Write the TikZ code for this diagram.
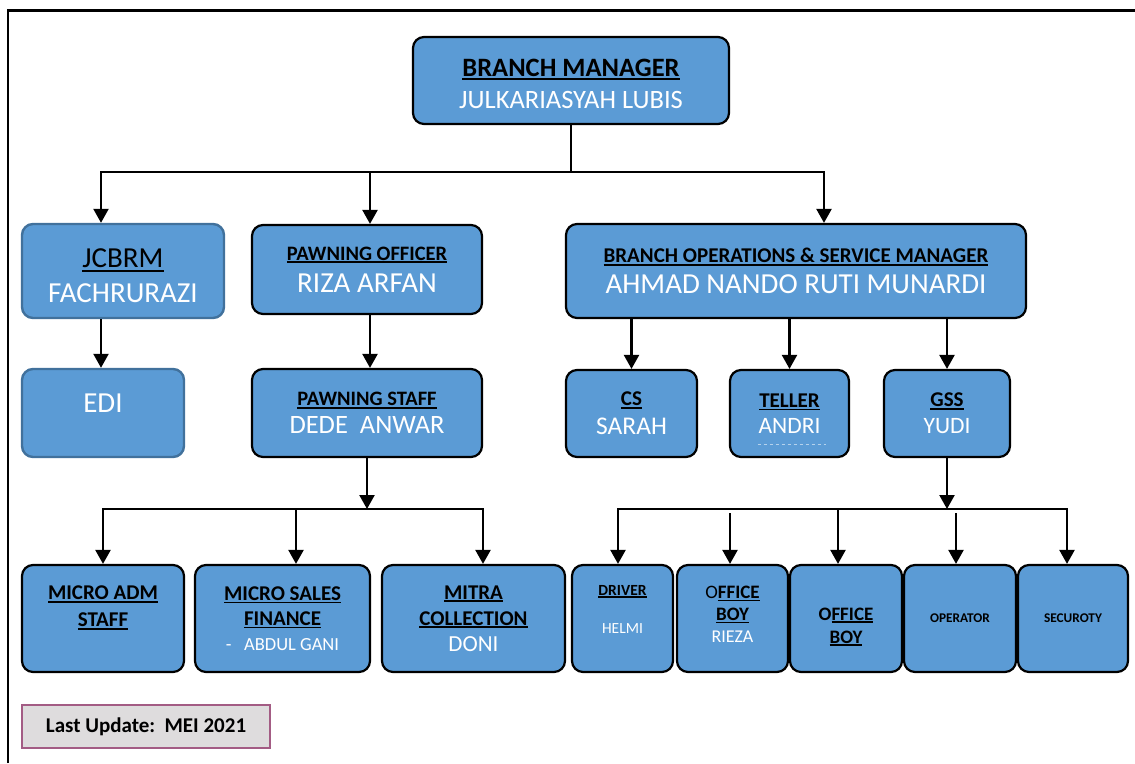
\documentclass[tikz,border=0pt]{standalone}
\usepackage{fontspec}
\setmainfont{Carlito}
\usetikzlibrary{arrows.meta,calc}
\definecolor{boxblue}{HTML}{5B9BD5}
\definecolor{edgeblue}{HTML}{41719C}
\definecolor{notegray}{HTML}{DEDCDD}
\definecolor{noteedge}{HTML}{A35C84}
\newcommand\undl[1]{{\setbox0\hbox{#1}\rlap{\rule[-0.14em]{\wd0}{0.08em}}\box0}}
\newcommand\hd[2]{{\fontsize{#1}{#1}\selectfont\bfseries\undl{#2}}}
\newcommand\nm[2]{{\fontsize{#1}{#1}\selectfont\color{white}#2}}
\begin{document}
\begin{tikzpicture}[x=1pt,y=-1pt,
  box/.style={draw,line width=2.2pt,rounded corners=11pt,fill=boxblue,align=center,inner sep=0pt,minimum height=87},
  bluebox/.style={box,draw=edgeblue,line width=2.4pt},
  link/.style={line width=2.3pt,line cap=rect},
  arr/.style={line width=2.3pt,-{Triangle[width=15pt,length=14pt]}}]
\useasboundingbox (0,0) rectangle (1135,763);
\draw[line width=2.2pt] (8,763)--(8,10.5)--(1135,10.5);
\node[box,minimum width=316,text height=56pt,font=\fontsize{26.5}{32}\selectfont] (bm) at (571,80.5) {\hd{26.5}{BRANCH MANAGER}\\\nm{26.5}{JULKARIASYAH LUBIS}};
\node[bluebox,minimum width=202,minimum height=94,text height=64pt,font=\fontsize{29}{35}\selectfont] (jcbrm) at (123,271) {{\undl{JCBRM}}\\\nm{29}{FACHRURAZI}};
\node[bluebox,minimum width=162,minimum height=88,text depth=20pt] (edi) at (103,413) {\nm{29}{EDI}};
\node[box,minimum width=230,minimum height=89,font=\fontsize{20.5}{32}\selectfont] (po) at (367,269.5) {\hd{20.5}{PAWNING OFFICER}\\\nm{29}{RIZA ARFAN}};
\node[box,minimum width=230,minimum height=88,font=\fontsize{20.5}{28}\selectfont] (ps) at (367,413) {\hd{20.5}{PAWNING STAFF}\\\nm{26.5}{DEDE\ \ ANWAR}};
\node[box,minimum width=460,minimum height=94,font=\fontsize{21}{31}\selectfont] (bosm) at (796,271) {\hd{21}{BRANCH OPERATIONS \& SERVICE MANAGER}\\\nm{29}{AHMAD NANDO RUTI MUNARDI}};
\node[box,minimum width=131,font=\fontsize{21}{29}\selectfont] (cs) at (631.5,413.5) {\hd{21}{CS}\\\nm{25.5}{SARAH}};
\node[box,minimum width=119,font=\fontsize{21}{26}\selectfont] (teller) at (789.5,413.5) {\hd{21}{TELLER}\\\nm{23.5}{ANDRI}};
\node[box,minimum width=126,font=\fontsize{21}{27}\selectfont] (gss) at (947,413.5) {\hd{21}{GSS}\\\nm{23.5}{YUDI}};
\draw[white!55!boxblue,dashed,line width=0.8pt] ($(teller.center)+(-32,31)$) -- ($(teller.center)+(36,31)$);
\node[box,minimum width=162,minimum height=107,text depth=24pt,font=\fontsize{21}{27}\selectfont] (adm) at (103,618.5) {\hd{21}{MICRO ADM}\\\hd{21}{STAFF}};
\node[box,minimum width=175,minimum height=107,font=\fontsize{21}{25}\selectfont] (msf) at (282.5,618.5) {\hd{21}{MICRO SALES}\\\hd{21}{FINANCE}\\\nm{18.5}{-\ \ \ ABDUL GANI}};
\node[box,minimum width=183,minimum height=107,font=\fontsize{21}{26}\selectfont] (mitra) at (473.5,618.5) {\hd{21}{MITRA}\\\hd{21}{COLLECTION}\\\nm{23}{DONI}};
\node[box,minimum width=101,minimum height=107,text depth=18pt,font=\fontsize{15.5}{38}\selectfont] (driver) at (622.5,618.5) {\hd{15.5}{DRIVER}\\\nm{15.5}{HELMI}};
\node[box,minimum width=111,minimum height=107,text depth=8pt,font=\fontsize{19}{22}\selectfont] (ob1) at (732.5,618.5) {O\textbf{\undl{FFICE}}\\\hd{19}{BOY}\\\nm{18}{RIEZA}};
\node[box,minimum width=112,minimum height=107,text height=52pt,font=\fontsize{19}{23}\selectfont] (ob2) at (846,618.5) {\textbf{O\undl{FFICE}}\\\hd{19}{BOY}};
\node[box,minimum width=112,minimum height=107,font=\fontsize{13.3}{16}\selectfont\bfseries] (op) at (960,618.5) {OPERATOR};
\node[box,minimum width=110,minimum height=107,font=\fontsize{13.3}{16}\selectfont\bfseries] (sec) at (1073,618.5) {SECUROTY};
\node[draw=noteedge,fill=notegray,line width=2pt,minimum width=248,minimum height=43,font=\fontsize{21}{25}\selectfont\bfseries] (note) at (146,726.5) {Last Update:\ \ MEI 2021};
\coordinate (jbus) at (101,172); \coordinate (pbus) at (370,172); \coordinate (obus) at (824,172);
\draw[link] (bm.south) -- (bm.south |- jbus); \draw[link] (jbus) -- (obus);
\foreach \c/\n in {jbus/jcbrm,pbus/po,obus/bosm} \draw[arr] (\c) -- (\c |- \n.north);
\draw[arr] (jbus |- jcbrm.south) -- (jbus |- edi.north);
\draw[arr] (pbus |- po.south) -- (pbus |- ps.north);
\coordinate (sbusA) at (103,509); \coordinate (sbusB) at (296,509); \coordinate (sbusC) at (483,509);
\draw[arr] (ps.south) -- (ps.south |- sbusA); \draw[link] (sbusA) -- (sbusC);
\foreach \c/\n in {sbusA/adm,sbusB/msf,sbusC/mitra} \draw[arr] (\c) -- (\c |- \n.north);
\foreach \n in {cs,teller,gss} \draw[arr] (\n.north |- bosm.south) -- (\n.north);
\coordinate (gbusA) at (618,509); \coordinate (gbusB) at (730,513); \coordinate (gbusC) at (838,509); \coordinate (gbusD) at (956,513); \coordinate (gbusE) at (1067,509);
\draw[arr] (gss.south) -- (gss.south |- gbusA); \draw[link] (gbusA) -- (gbusE);
\foreach \c/\n in {gbusA/driver,gbusB/ob1,gbusC/ob2,gbusD/op,gbusE/sec} \draw[arr] (\c) -- (\c |- \n.north);
\end{tikzpicture}
\end{document}
